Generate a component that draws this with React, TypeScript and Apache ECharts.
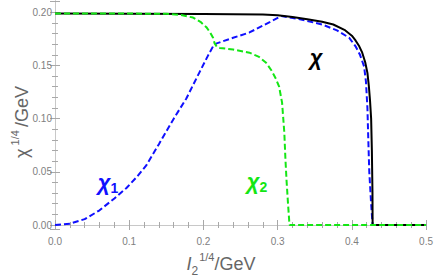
import React, { useEffect, useRef } from "react";
import * as echarts from "echarts";

const chiTotal: [number, number][] = [
  [0, 0.1988], [0.1, 0.1987], [0.2, 0.1984], [0.28, 0.198], [0.3, 0.1972], [0.32, 0.1955],
  [0.34, 0.1935], [0.36, 0.191], [0.375, 0.1885], [0.39, 0.1835], [0.4, 0.178], [0.405, 0.1735],
  [0.41, 0.168], [0.414, 0.162], [0.418, 0.153], [0.421, 0.143], [0.423, 0.13], [0.4245, 0.117],
  [0.426, 0.1], [0.427, 0.07], [0.4278, 0.03], [0.428, 0], [0.5, 0],
];

const chi1: [number, number][] = [
  [0, 0], [0.02, 0.0012], [0.04, 0.0055], [0.06, 0.0138], [0.08, 0.025], [0.096, 0.0346],
  [0.11, 0.045], [0.123, 0.056], [0.14, 0.076], [0.15, 0.088], [0.16, 0.1], [0.177, 0.119],
  [0.195, 0.144], [0.206, 0.159], [0.213, 0.168], [0.217, 0.1705], [0.24, 0.176], [0.262, 0.181],
  [0.276, 0.186], [0.29, 0.191], [0.305, 0.1965], [0.33, 0.1935], [0.36, 0.1885], [0.38, 0.183],
  [0.3965, 0.176], [0.405, 0.168], [0.411, 0.16], [0.4165, 0.149], [0.419, 0.135], [0.421, 0.11],
  [0.4222, 0.08], [0.4235, 0.05], [0.426, 0.02], [0.428, 0], [0.5, 0],
];

const chi2: [number, number][] = [
  [0, 0.1988], [0.1, 0.1988], [0.15, 0.1985], [0.17, 0.1975], [0.186, 0.195], [0.196, 0.191],
  [0.204, 0.186], [0.209, 0.181], [0.213, 0.176], [0.215, 0.171], [0.218, 0.1675], [0.222, 0.1665],
  [0.24, 0.165], [0.262, 0.162], [0.275, 0.158], [0.2845, 0.1525], [0.292, 0.145], [0.298, 0.137],
  [0.302, 0.13], [0.306, 0.115], [0.309, 0.087], [0.3105, 0.062], [0.312, 0.042], [0.314, 0.02],
  [0.316, 0], [0.5, 0],
];

const X_MIN = 0;
const X_MAX = 0.5;
const Y_MIN = -0.00376;
const Y_MAX = 0.2106;

export default function App() {
  const ref = useRef<HTMLDivElement>(null);
  useEffect(() => {
    if (!ref.current) return;
    const chart = echarts.init(ref.current, undefined, { renderer: "svg" });
    const frameColor = "#a8a8a8";
    const labelColor = "#808080";
    const titleColor = "#666666";
    const tickCommon = {
      axisTick: { show: true, inside: true, length: 5, lineStyle: { color: frameColor, width: 1 } },
      minorTick: { show: true, splitNumber: 5, length: 3, lineStyle: { color: frameColor, width: 1 } },
      splitLine: { show: false },
      minorSplitLine: { show: false },
    };
    chart.setOption({
      animation: false,
      backgroundColor: "#ffffff",
      grid: { left: 55, right: 9, top: 1, bottom: 50, containLabel: false },
      xAxis: [
        {
          type: "value", position: "bottom", min: X_MIN, max: X_MAX, interval: 0.1,
          axisLine: { show: true, lineStyle: { color: frameColor, width: 1 } },
          axisLabel: {
            show: true, color: labelColor, fontSize: 10, fontFamily: "Liberation Sans", margin: 7,
            formatter: (v: number) => v.toFixed(1),
          },
          ...tickCommon,
        },
        {
          type: "value", position: "top", min: X_MIN, max: X_MAX, interval: 0.1,
          axisLine: { show: true, lineStyle: { color: "#c8c8c8", width: 1 } },
          axisLabel: { show: false },
          ...tickCommon,
        },
      ],
      yAxis: [
        {
          type: "value", position: "left", min: Y_MIN, max: Y_MAX, splitNumber: 5,
          axisLine: { show: true, lineStyle: { color: frameColor, width: 1 } },
          axisLabel: {
            show: true, color: labelColor, fontSize: 10, fontFamily: "Liberation Sans", margin: 3,
            showMinLabel: false, showMaxLabel: false,
            formatter: (v: number) => (Math.abs(v) < 1e-9 ? "0.00" : v.toFixed(2)),
          },
          ...tickCommon,
        },
        {
          type: "value", position: "right", min: Y_MIN, max: Y_MAX, splitNumber: 5,
          axisLine: { show: true, lineStyle: { color: "#c8c8c8", width: 1 } },
          axisLabel: { show: false },
          ...tickCommon,
        },
      ],
      series: [
        {
          name: "chi1", type: "line", data: chi1, showSymbol: false, symbol: "none",
          xAxisIndex: 0, yAxisIndex: 0,
          lineStyle: { color: "#1010ff", width: 2, type: [6, 3] },
        },
        {
          name: "chi", type: "line", data: chiTotal, showSymbol: false, symbol: "none",
          xAxisIndex: 0, yAxisIndex: 0,
          lineStyle: { color: "#000000", width: 2, type: "solid" },
        },
        {
          name: "chi2", type: "line", data: chi2, showSymbol: false, symbol: "none",
          xAxisIndex: 0, yAxisIndex: 0,
          lineStyle: { color: "#14e614", width: 2, type: [6, 3] },
        },
      ],
      graphic: [
        {
          type: "text", x: 316, y: 57,
          style: {
            text: "χ", fill: "#000000", font: "italic bold 22px 'Liberation Sans'",
            align: "center", verticalAlign: "middle",
          },
        },
        {
          type: "text", x: 108, y: 181,
          style: {
            text: "{a|χ}{b|1}", fill: "#1010ff", align: "center", verticalAlign: "middle",
            rich: {
              a: { fontSize: 22, fontStyle: "italic", fontWeight: "bold", fontFamily: "Liberation Sans", fill: "#1010ff", verticalAlign: "bottom", lineHeight: 24 },
              b: { fontSize: 14, fontWeight: "bold", fontFamily: "Liberation Sans", fill: "#1010ff", verticalAlign: "bottom", lineHeight: 24, padding: [0, 0, -2, 0] },
            },
          },
        },
        {
          type: "text", x: 257, y: 180,
          style: {
            text: "{a|χ}{b|2}", fill: "#14e614", align: "center", verticalAlign: "middle",
            rich: {
              a: { fontSize: 22, fontStyle: "italic", fontWeight: "bold", fontFamily: "Liberation Sans", fill: "#14e614", verticalAlign: "bottom", lineHeight: 24 },
              b: { fontSize: 14, fontWeight: "bold", fontFamily: "Liberation Sans", fill: "#14e614", verticalAlign: "bottom", lineHeight: 24, padding: [0, 0, -2, 0] },
            },
          },
        },
        {
          type: "text", x: 20, y: 122, rotation: Math.PI / 2,
          style: {
            text: "{a|χ}{s| 1/4 }{a|/GeV}", fill: titleColor, align: "center", verticalAlign: "middle",
            rich: {
              a: { fontSize: 18, fontFamily: "Liberation Sans", fill: titleColor, verticalAlign: "bottom", lineHeight: 22 },
              s: { fontSize: 11, fontFamily: "Liberation Sans", fill: titleColor, verticalAlign: "top", lineHeight: 22 },
            },
          },
        },
        {
          type: "text", x: 221, y: 262,
          style: {
            text: "{i|I}{u|2}{s|1/4}{a|/GeV}", fill: titleColor, align: "center", verticalAlign: "middle",
            rich: {
              i: { fontSize: 18, fontStyle: "italic", fontFamily: "Liberation Sans", fill: titleColor, verticalAlign: "bottom", lineHeight: 22 },
              u: { fontSize: 12, fontFamily: "Liberation Sans", fill: titleColor, verticalAlign: "bottom", lineHeight: 22, padding: [0, 1, -4, 0] },
              s: { fontSize: 11, fontFamily: "Liberation Sans", fill: titleColor, verticalAlign: "top", lineHeight: 22 },
              a: { fontSize: 18, fontFamily: "Liberation Sans", fill: titleColor, verticalAlign: "bottom", lineHeight: 22 },
            },
          },
        },
      ],
    });
    return () => chart.dispose();
  }, []);
  return <div ref={ref} style={{ width: 436, height: 279, position: "absolute", left: 0, top: 0 }} />;
}
